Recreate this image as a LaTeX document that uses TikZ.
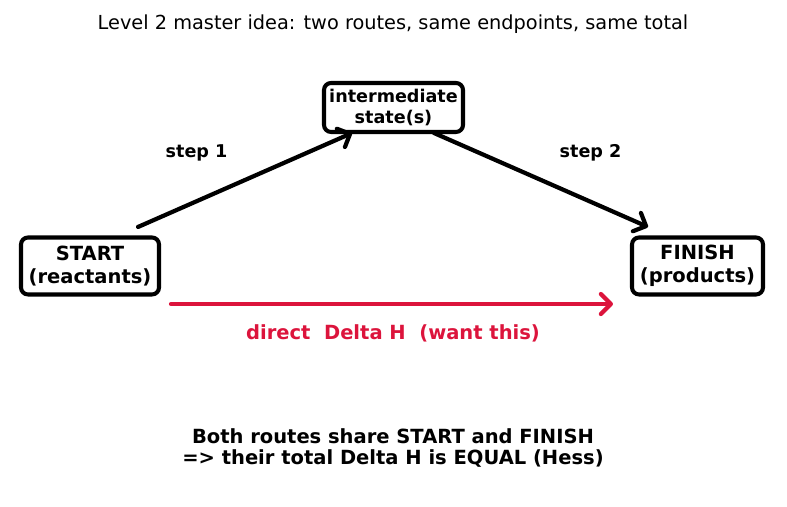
\documentclass[tikz,border=0pt]{standalone}
\usepackage{fontspec}
\setmainfont{DejaVu Sans}
\definecolor{routered}{HTML}{DC143C}
\usetikzlibrary{arrows.meta,positioning}

\begin{document}
\begin{tikzpicture}[
  statebox/.style={rectangle, draw=black, line width=2.3pt, fill=white,
    align=center, font=\bfseries\fontsize{11.1}{13}\selectfont,
    rounded corners=4pt, inner sep=2pt},
  routearrow/.style={line width=2.4pt, line cap=round, line join=round,
    -{Straight Barb[length=2mm,width=4mm,line cap=round,line join=round]}},
  steplabel/.style={font=\bfseries\fontsize{10}{11}\selectfont}
]
  \useasboundingbox (0,0) rectangle (15.74,10.14);
  % title
  \node (title) at (7.86,9.66) {\fontsize{11}{12}\selectfont Level 2 master idea: two routes, same endpoints, same total};
  % states
  \node[statebox, minimum width=2.76cm, minimum height=1.14cm] (start) at (1.80,4.82) {START\\(reactants)};
  \node[statebox, minimum width=2.78cm, minimum height=0.98cm,
    font=\bfseries\fontsize{10}{12.2}\selectfont] (mid) at (7.87,7.99) {intermediate\\state(s)};
  \node[statebox, minimum width=2.62cm, minimum height=1.14cm] (finish) at (13.95,4.82) {FINISH\\(products)};
  % two-step route
  \draw[routearrow] ([shift={(0.96,0.17)}]start.north) -- ([shift={(-0.83,0.02)}]mid.south);
  \draw[routearrow] ([shift={(0.81,0.02)}]mid.south) -- ([shift={(-0.99,0.17)}]finish.north);
  \node[steplabel] (s1) at (3.93,7.08) {step 1};
  \node[steplabel] (s2) at (11.81,7.08) {step 2};
  % direct route
  \draw[routearrow, routered] ([shift={(0.20,-0.15)}]start.south east) -- ([shift={(-0.34,-0.15)}]finish.south west);
  \node[routered, font=\bfseries\fontsize{11.1}{12}\selectfont] (direct) at (7.86,3.48) {direct\ \ Delta H\ \ (want this)};
  % conclusion
  \node[align=center, font=\bfseries\fontsize{11.1}{12.5}\selectfont] (note) at (7.86,1.18)
    {Both routes share START and FINISH\\=> their total Delta H is EQUAL (Hess)};
\end{tikzpicture}
\end{document}
